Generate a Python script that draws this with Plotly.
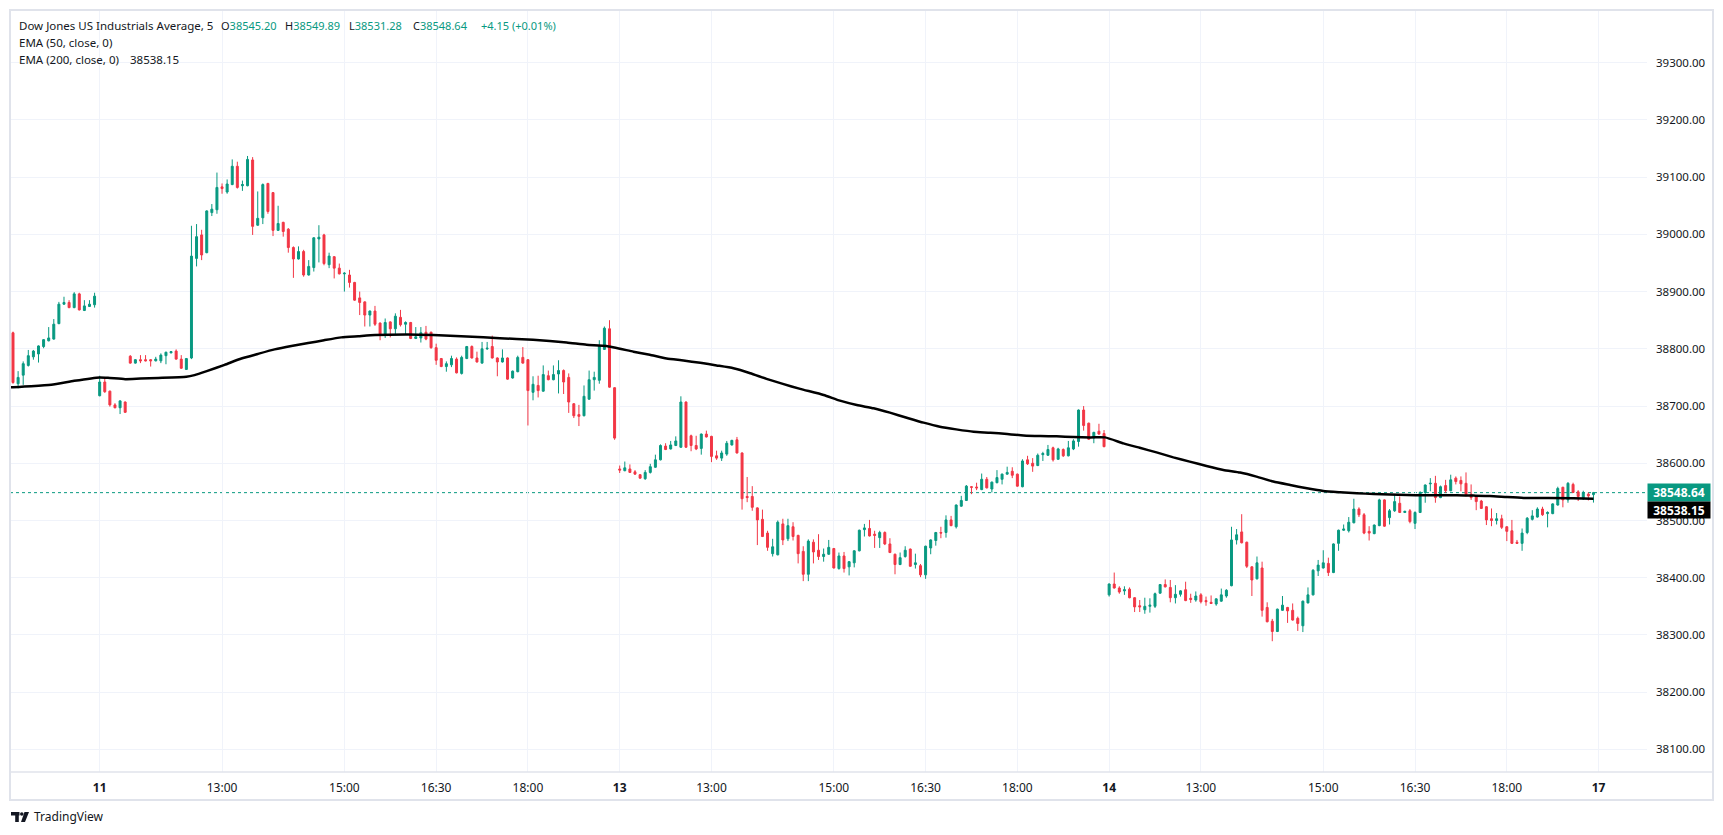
import plotly.graph_objects as go

# ---------------- data (5-minute bars, index = bar number) ----------------
opens = [
38828, 38739, 38754, 38771, 38786, 38791, 38804, 38814, 38817, 38844,
38878, 38881, 38872, 38896, 38867, 38874, 38877, 38718, 38742, 38726,
38702, 38697, 38707, 38787, 38775, 38781, 38781, 38781, 38779, 38779,
38788, 38793, 38796, 38782, 38764, 38784, 38958, 38999, 38968, 39038,
39043, 39083, 39074, 39087, 39119, 39085, 39085, 39130, 39016, 39029,
39089, 39073, 39007, 39021, 39009, 38977, 38957, 38970, 38929, 38942,
38992, 38999, 38947, 38961, 38941, 38931, 38929, 38916, 38889, 38882,
38859, 38866, 38845, 38826, 38847, 38835, 38855, 38843, 38846, 38818,
38819, 38829, 38829, 38802, 38783, 38769, 38772, 38782, 38757, 38783,
38804, 38784, 38775, 38800, 38804, 38784, 38777, 38784, 38749, 38760,
38785, 38781, 38724, 38736, 38726, 38753, 38746, 38756, 38762, 38750,
38704, 38685, 38683, 38712, 38746, 38745, 38799, 38835, 38732, 38590,
38587, 38590, 38585, 38580, 38573, 38584, 38593, 38606, 38630, 38625,
38631, 38628, 38707, 38648, 38631, 38626, 38651, 38647, 38613, 38609,
38616, 38632, 38641, 38618, 38542, 38542, 38522, 38502, 38478, 38442,
38440, 38494, 38468, 38489, 38474, 38446, 38406, 38462, 38448, 38437,
38441, 38451, 38416, 38438, 38419, 38426, 38447, 38484, 38486, 38476,
38470, 38479, 38459, 38441, 38423, 38437, 38450, 38423, 38421, 38405,
38452, 38465, 38479, 38479, 38501, 38489, 38525, 38535, 38559, 38558.5,
38554, 38572, 38555, 38566, 38572, 38581, 38586, 38581, 38559, 38606,
38600, 38596, 38615, 38614, 38627, 38607, 38624, 38613, 38625, 38638,
38693, 38670, 38644, 38656, 38652, 38370, 38389, 38382, 38377, 38380,
38365, 38351, 38344, 38350, 38350, 38373, 38388, 38383, 38365, 38371,
38379, 38364, 38361, 38370, 38360, 38357, 38354, 38359, 38368, 38386,
38466, 38480, 38462, 38419, 38398, 38417, 38348, 38324, 38306, 38343,
38348, 38343, 38329, 38316, 38356, 38370, 38412, 38417, 38425, 38409,
38460, 38483, 38482, 38496, 38520, 38510, 38481, 38477, 38491, 38536,
38505, 38517, 38530, 38514, 38517, 38495, 38514, 38549, 38564, 38565,
38540, 38561, 38552, 38574, 38570, 38565, 38546, 38541, 38534, 38524,
38503, 38500, 38503, 38489, 38482, 38462, 38460, 38479, 38502, 38506,
38520, 38512, 38512, 38527, 38558, 38536, 38563, 38550, 38538, 38546,
38545.20]

highs = [
38830, 38761, 38778, 38798, 38798, 38806, 38817, 38838, 38852, 38882,
38891, 38885, 38899, 38898, 38885, 38885, 38898, 38753, 38749, 38727,
38705, 38710, 38708, 38789, 38782, 38789, 38789, 38782, 38786, 38792,
38795, 38796, 38799, 38789, 38784, 39015, 39018, 39008, 39042, 39053,
39108, 39089, 39096, 39131, 39127, 39094, 39137, 39135, 39075, 39089,
39090, 39074, 39050, 39022, 39011, 38979, 38979, 38973, 38955, 38995,
39016, 39001, 38968, 38962, 38949, 38934, 38938, 38917, 38900, 38883,
38867, 38875, 38846, 38853, 38848, 38862, 38868, 38848, 38847, 38838,
38838, 38840, 38830, 38809, 38784, 38778, 38788, 38785, 38788, 38805,
38806, 38795, 38812, 38812, 38823, 38785, 38799, 38785, 38762, 38788,
38803, 38782, 38752, 38753, 38771, 38762, 38771, 38780, 38764, 38757,
38705, 38702, 38736, 38762, 38760, 38815, 38839, 38850, 38733, 38596,
38603, 38598, 38588, 38581, 38588, 38599, 38615, 38633, 38635, 38639,
38647, 38717, 38708, 38650, 38648, 38652, 38657, 38648, 38622, 38622,
38639, 38641, 38646, 38619, 38576, 38560, 38523, 38519, 38482, 38468,
38500, 38503, 38503, 38497, 38475, 38455, 38467, 38467, 38476, 38451,
38466, 38452, 38444, 38445, 38429, 38448, 38484, 38494, 38501, 38482,
38482, 38481, 38469, 38442, 38444, 38455, 38451, 38442, 38424, 38456,
38467, 38480, 38489, 38509, 38508, 38528, 38543, 38562, 38560, 38566,
38582, 38576, 38568, 38588, 38582, 38594, 38593, 38582, 38607, 38613,
38609, 38617, 38620, 38632, 38629, 38627, 38626, 38639, 38642, 38694,
38700, 38671, 38655, 38669, 38658, 38390, 38409, 38385, 38385, 38383,
38366, 38361, 38365, 38364, 38374, 38389, 38397, 38396, 38387, 38378,
38393, 38372, 38376, 38373, 38367, 38369, 38364, 38381, 38380, 38489,
38485, 38511, 38463, 38420, 38437, 38428, 38357, 38328, 38346, 38368,
38349, 38355, 38332, 38360, 38383, 38415, 38431, 38448, 38435, 38460,
38484, 38493, 38506, 38538, 38523, 38513, 38490, 38493, 38538, 38537,
38520, 38545, 38542, 38517, 38520, 38516, 38551, 38563, 38574, 38578,
38561, 38571, 38580, 38577, 38577, 38584, 38563, 38542, 38536, 38525,
38521, 38513, 38510, 38490, 38501, 38466, 38486, 38506, 38518, 38523,
38524, 38516, 38530, 38559, 38559, 38567, 38566, 38553, 38552, 38549,
38549.89]

lows = [
38739, 38731, 38737, 38769, 38781, 38776, 38801, 38813, 38816, 38843,
38877, 38871, 38871, 38867, 38866, 38873, 38872, 38717, 38723, 38699,
38696, 38686, 38688, 38774, 38774, 38775, 38778, 38769, 38778, 38775,
38773, 38792, 38781, 38765, 38763, 38782, 38944, 38955, 38967, 39032,
39036, 39071, 39071, 39086, 39080, 39076, 39084, 38999, 39015, 39018,
39036, 38997, 39006, 38996, 38968, 38924, 38956, 38926, 38928, 38935,
38951, 38946, 38941, 38923, 38930, 38900, 38907, 38884, 38859, 38839,
38839, 38840, 38815, 38819, 38820, 38826, 38839, 38826, 38817, 38817,
38811, 38815, 38800, 38772, 38768, 38760, 38768, 38757, 38755, 38782,
38783, 38776, 38774, 38798, 38783, 38752, 38776, 38746, 38748, 38759,
38774, 38666, 38710, 38715, 38725, 38745, 38745, 38722, 38721, 38688,
38679, 38665, 38682, 38711, 38727, 38739, 38798, 38732, 38641, 38583,
38586, 38583, 38580, 38573, 38571, 38582, 38592, 38605, 38623, 38624,
38630, 38627, 38627, 38621, 38623, 38615, 38645, 38602, 38606, 38604,
38613, 38631, 38617, 38519, 38532, 38517, 38457, 38471, 38447, 38437,
38439, 38457, 38464, 38465, 38425, 38394, 38394, 38425, 38431, 38428,
38440, 38416, 38414, 38409, 38404, 38418, 38446, 38472, 38472, 38452,
38452, 38457, 38443, 38406, 38422, 38435, 38419, 38416, 38401, 38398,
38441, 38456, 38469, 38470, 38490, 38486, 38524, 38534, 38546, 38553,
38553, 38556, 38549, 38565, 38563, 38580, 38574, 38559, 38558, 38597,
38585, 38595, 38604, 38613, 38603, 38606, 38611, 38612, 38623, 38629,
38657, 38641, 38635, 38650, 38628, 38367, 38381, 38372, 38370, 38364,
38340, 38340, 38337, 38339, 38347, 38372, 38383, 38357, 38355, 38367,
38359, 38356, 38358, 38355, 38351, 38354, 38351, 38358, 38365, 38385,
38458, 38460, 38417, 38368, 38397, 38332, 38322, 38289, 38305, 38342,
38321, 38325, 38307, 38305, 38355, 38369, 38403, 38416, 38403, 38408,
38447, 38482, 38479, 38495, 38506, 38476, 38465, 38476, 38490, 38489,
38493, 38515, 38513, 38513, 38495, 38485, 38513, 38531, 38551, 38531,
38539, 38548, 38551, 38563, 38551, 38542, 38536, 38518, 38520, 38492,
38490, 38493, 38485, 38464, 38459, 38459, 38447, 38476, 38500, 38505,
38508, 38488, 38511, 38526, 38523, 38531, 38548, 38534, 38536, 38535,
38531.28]

closes = [
38741, 38750, 38774, 38788, 38796, 38805, 38816, 38819, 38843, 38878,
38881, 38872, 38896, 38868, 38875, 38878, 38892, 38742, 38725, 38702,
38697, 38709, 38689, 38775, 38781, 38779, 38779, 38779, 38782, 38789,
38794, 38795, 38782, 38766, 38783, 38962, 38996, 38964, 39041, 39044,
39082, 39080, 39088, 39119, 39082, 39087, 39131, 39014, 39028, 39087,
39040, 39007, 39019, 39005, 38977, 38957, 38970, 38929, 38944, 38994,
38995, 38949, 38962, 38941, 38931, 38932, 38916, 38885, 38881, 38859,
38866, 38843, 38826, 38846, 38835, 38857, 38842, 38846, 38818, 38821,
38828, 38817, 38802, 38780, 38769, 38774, 38783, 38758, 38785, 38804,
38784, 38777, 38800, 38801, 38784, 38777, 38784, 38747, 38761, 38785,
38775, 38727, 38738, 38727, 38755, 38746, 38755, 38762, 38742, 38707,
38683, 38682, 38717, 38746, 38750, 38805, 38836, 38733, 38644, 38588,
38592, 38584, 38581, 38574, 38584, 38594, 38606, 38631, 38624, 38632,
38639, 38707, 38628, 38631, 38625, 38651, 38646, 38612, 38609, 38618,
38635, 38640, 38618, 38538, 38540, 38523, 38501, 38472, 38453, 38454,
38497, 38466, 38491, 38472, 38442, 38406, 38464, 38445, 38437, 38441,
38453, 38417, 38438, 38416, 38428, 38447, 38483, 38487, 38473, 38474,
38479, 38459, 38444, 38423, 38435, 38448, 38420, 38426, 38405, 38455,
38466, 38479, 38478, 38501, 38491, 38527, 38535, 38560, 38558, 38557,
38572, 38557, 38567, 38575, 38581, 38584, 38579, 38560, 38604, 38599,
38595, 38614, 38617, 38624, 38606, 38625, 38613, 38627, 38639, 38693,
38666, 38642, 38654, 38651, 38629, 38389, 38382, 38375, 38379, 38365,
38349, 38349, 38350, 38352, 38372, 38388, 38384, 38365, 38371, 38377,
38360, 38362, 38368, 38358, 38358, 38355, 38363, 38370, 38378, 38466,
38475, 38461, 38420, 38396, 38426, 38343, 38323, 38306, 38345, 38352,
38342, 38326, 38320, 38359, 38370, 38413, 38422, 38426, 38409, 38459,
38483, 38485, 38497, 38520, 38510, 38478, 38478, 38492, 38536, 38490,
38517, 38533, 38514, 38516, 38498, 38514, 38549, 38562, 38565, 38540,
38559, 38552, 38571, 38568, 38564, 38545, 38540, 38533, 38521, 38501,
38500, 38503, 38488, 38481, 38460, 38460, 38478, 38504, 38508, 38520,
38510, 38514, 38529, 38556, 38536, 38565, 38549, 38542, 38549, 38543,
38548.64]

bars = list(range(len(opens)))

# EMA(200) (bar position, value)
ema_bars = [-0.6, 0, 7.5, 12, 17, 19, 22, 25, 28.5, 34, 35.6, 38, 41.5, 44.8, 48, 51.3,
            54.6, 57.9, 61, 64.4, 67.7, 71, 77.5, 82.4, 89, 95.5, 102, 108.6, 112.5,
            116.4, 121.7, 124.9, 128.2, 131.5, 134.8, 138, 141.3, 144.6, 147.8, 151,
            154.4, 159, 162.2, 165.5, 168.8, 172, 175.3, 178.6, 181.8, 185, 188.4,
            191.7, 195, 198.2, 201.5, 204.7, 208, 211.3, 214.2, 217.8, 221, 224.3,
            227.6, 230.8, 234.1, 237.4, 240.7, 243.9, 247.2, 250.5, 253.8, 257,
            260.3, 263.6, 266.9, 270.1, 273.4, 276.7, 283.2, 286.5, 289.7, 293,
            296.3, 306, 310]
ema_values = [38733, 38733, 38737, 38744, 38750, 38749, 38747, 38748, 38749, 38751,
              38754, 38761, 38772, 38783, 38791, 38799, 38805, 38810, 38815, 38820,
              38822, 38824, 38825, 38824, 38821.5, 38818.6, 38815.7, 38811, 38807,
              38805, 38795, 38789.5, 38783, 38779.6, 38775.5, 38771, 38766, 38757.4,
              38747.5, 38738.7, 38730, 38719.3, 38709.4, 38701.8, 38696, 38688.4,
              38679.6, 38671, 38663.9, 38659.2, 38655, 38653.4, 38651, 38648.7,
              38647.6, 38647, 38645.8, 38645.2, 38645.2, 38634.7, 38627, 38619,
              38610.2, 38602.8, 38595.3, 38588.3, 38583.7, 38576.7, 38568, 38562,
              38556.3, 38551.6, 38549.3, 38547.5, 38546.4, 38545.2, 38544.6, 38544,
              38544, 38543.5, 38542.9, 38541, 38539.4, 38539, 38538.15]

x_tick_bars = [17, 41, 65, 83, 101, 119, 137, 161, 179, 197, 215, 233, 257, 275, 293, 311]
x_tick_labels = ["<b>11</b>", "13:00", "15:00", "16:30", "18:00", "<b>13</b>", "13:00", "15:00",
                 "16:30", "18:00", "<b>14</b>", "13:00", "15:00", "16:30", "18:00", "<b>17</b>"]
y_tick_values = [38100, 38200, 38300, 38400, 38500, 38600, 38700, 38800, 38900, 39000,
                 39100, 39200, 39300]
y_tick_labels = ["38100.00", "38200.00", "38300.00", "38400.00", "38500.00", "38600.00",
                 "38700.00", "38800.00", "38900.00", "39000.00", "39100.00", "39200.00",
                 "39300.00"]

title_text = "Dow Jones US Industrials Average, 5"
change_text = "+4.15 (+0.01%)"

# ---------------- styling ----------------
GREEN = "#089981"
RED = "#F23645"
TXT = "#131722"
GRID = "#f0f3fa"
BORDER = "#e0e3eb"
FONT = "Noto Sans"

W, H = 1723, 835
PL, PR, PT, PB = 10, 1647, 10, 772


def px(x):
    return (x - PL) / (PR - PL)


def py(y):
    return (PB - y) / (PB - PT)


fig = go.Figure()
fig.add_trace(go.Candlestick(
    x=bars, open=opens, high=highs, low=lows, close=closes,
    increasing=dict(line=dict(color=GREEN, width=1), fillcolor=GREEN),
    decreasing=dict(line=dict(color=RED, width=1), fillcolor=RED),
    whiskerwidth=0, showlegend=False, hoverinfo="skip"))
fig.add_trace(go.Scatter(
    x=ema_bars, y=ema_values, mode="lines",
    line=dict(color="#000000", width=2.5, shape="spline", smoothing=0.5),
    showlegend=False, hoverinfo="skip"))

last_close = closes[-1]
last_ema = ema_values[-1]

shapes = [
    # dotted last price line
    dict(type="line", xref="paper", yref="y", x0=0, x1=1, y0=last_close, y1=last_close,
         line=dict(color=GREEN, width=1, dash="dot"), layer="below"),
    # outer frame
    dict(type="rect", xref="paper", yref="paper", x0=px(10), x1=px(1713), y0=py(800), y1=py(10),
         line=dict(color=BORDER, width=2), layer="above"),
    # time axis separator
    dict(type="line", xref="paper", yref="paper", x0=px(10), x1=px(1713), y0=py(772), y1=py(772),
         line=dict(color=BORDER, width=1.5), layer="above"),
    # TradingView logo
    dict(type="rect", xref="paper", yref="paper", x0=px(11), x1=px(19.5), y0=py(815.5), y1=py(812),
         fillcolor=TXT, line=dict(width=0)),
    dict(type="rect", xref="paper", yref="paper", x0=px(15.2), x1=px(18.8), y0=py(822), y1=py(812),
         fillcolor=TXT, line=dict(width=0)),
    dict(type="circle", xref="paper", yref="paper", x0=px(20), x1=px(23.6), y0=py(815.8), y1=py(812.2),
         fillcolor=TXT, line=dict(width=0)),
    dict(type="path", xref="paper", yref="paper",
         path=f"M {px(24.5)} {py(812)} L {px(29)} {py(812)} L {px(25)} {py(822)} L {px(21)} {py(822)} Z",
         fillcolor=TXT, line=dict(width=0)),
]

annotations = []


def label(x, y, text, size=11, color=TXT, anchor="left"):
    annotations.append(dict(xref="paper", yref="paper", x=px(x), y=py(y), text=text,
                            showarrow=False, xanchor=anchor, yanchor="middle",
                            font=dict(family=FONT, size=size, color=color)))


label(17, 25.5, title_text, size=11.5)
label(219, 25.5, f"O<span style='color:{GREEN}'>{opens[-1]:.2f}</span>")
label(283, 25.5, f"H<span style='color:{GREEN}'>{highs[-1]:.2f}</span>")
label(347, 25.5, f"L<span style='color:{GREEN}'>{lows[-1]:.2f}</span>")
label(411, 25.5, f"C<span style='color:{GREEN}'>{closes[-1]:.2f}</span>")
label(479, 25.5, f"<span style='color:{GREEN}'>{change_text}</span>")
label(17, 42, "EMA (50, close, 0)", size=11.5)
label(17, 59.5, "EMA (200, close, 0)", size=11.5)
label(128, 59.5, f"{last_ema:.2f}", size=11.5)
label(32, 817, "TradingView", size=12)

# price tags on the right scale
annotations.append(dict(xref="paper", yref="y", x=1.0, y=last_close, xanchor="left", yanchor="middle",
                        text=f"<b>{last_close:.2f}</b>", showarrow=False, bgcolor=GREEN,
                        width=60, height=15, borderpad=1, align="center",
                        font=dict(family=FONT, size=12, color="#ffffff")))
annotations.append(dict(xref="paper", yref="y", x=1.0, y=last_ema, xanchor="left", yanchor="middle",
                        yshift=-11.5, text=f"<b>{last_ema:.2f}</b>", showarrow=False, bgcolor="#000000",
                        width=60, height=14, borderpad=1, align="center",
                        font=dict(family=FONT, size=12, color="#ffffff")))

fig.update_layout(
    width=W, height=H,
    margin=dict(l=PL, r=W - PR, t=PT, b=H - PB),
    paper_bgcolor="#ffffff", plot_bgcolor="#ffffff",
    font=dict(family=FONT, size=12, color=TXT),
    showlegend=False, boxgap=0.45,
    shapes=shapes, annotations=annotations,
    xaxis=dict(range=[-0.59, 320.5], tickmode="array", tickvals=x_tick_bars, ticktext=x_tick_labels,
               showgrid=True, gridcolor=GRID, gridwidth=1, zeroline=False, showline=False,
               ticks="", ticklabelstandoff=7, rangeslider=dict(visible=False), fixedrange=True,
               tickfont=dict(family=FONT, size=12, color=TXT)),
    yaxis=dict(side="right", range=[38060.45, 39392.1], tickmode="array", tickvals=y_tick_values,
               ticktext=y_tick_labels, showgrid=True, gridcolor=GRID, gridwidth=1, zeroline=False,
               showline=False, ticks="", ticklabelstandoff=8, fixedrange=True,
               tickfont=dict(family=FONT, size=11.5, color=TXT)),
)

fig.write_html("out.html", config={"displayModeBar": False},
               post_script="document.body.style.margin='0px';document.body.style.padding='0px';")
